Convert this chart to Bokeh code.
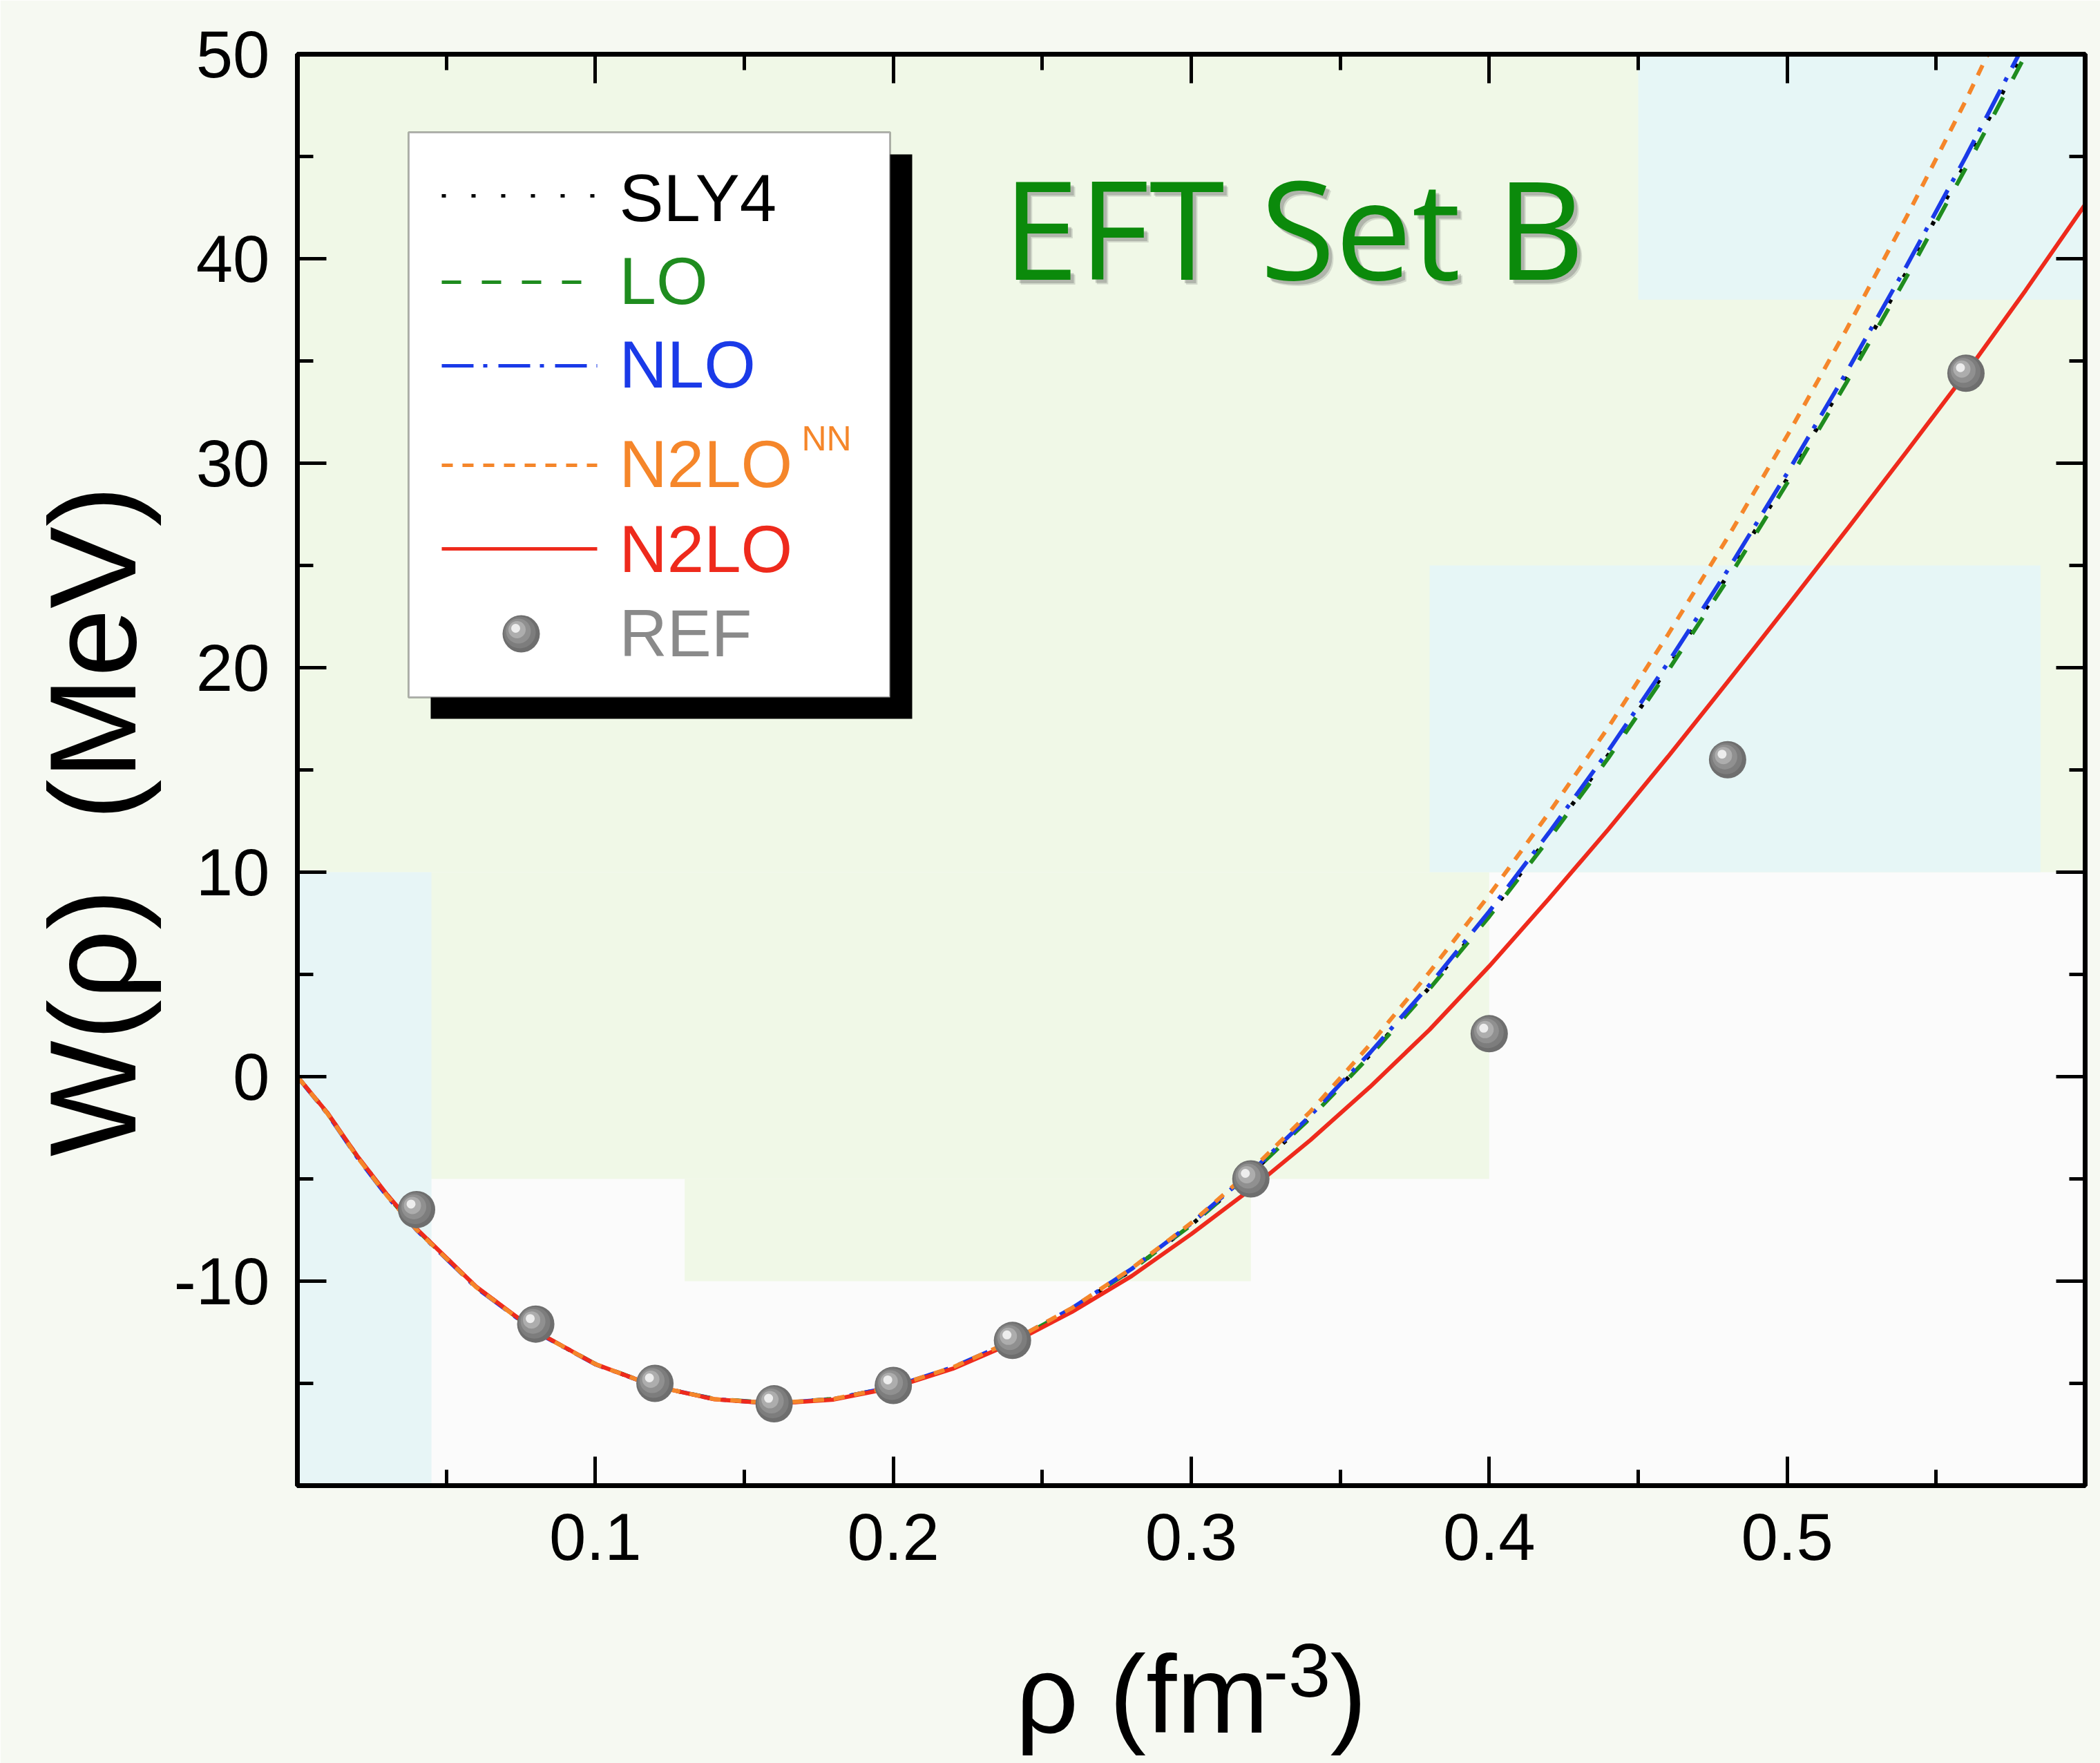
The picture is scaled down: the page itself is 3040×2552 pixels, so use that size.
from bokeh.plotting import figure
from bokeh.models import FixedTicker, LinearAxis, Range1d, Label, BoxAnnotation, Arrow
from bokeh.embed import file_html
from bokeh.resources import INLINE

# ---------------------------------------------------------------------------
# Energy per nucleon W(rho) of symmetric nuclear matter (MeV) vs density (fm^-3)
# ---------------------------------------------------------------------------
rho = [0.00, 0.01, 0.02, 0.03, 0.04, 0.06, 0.08, 0.10, 0.12, 0.14, 0.16,
       0.18, 0.20, 0.22, 0.24, 0.26, 0.28, 0.30, 0.32, 0.34, 0.36, 0.38,
       0.40, 0.42, 0.44, 0.46, 0.48, 0.50, 0.52, 0.54, 0.56, 0.58, 0.60]

w_sly4 = [0.00, -1.76, -3.87, -5.76, -7.45, -10.28, -12.46, -14.06, -15.14,
          -15.77, -15.98, -15.77, -15.18, -14.24, -12.96, -11.37, -9.46,
          -7.25, -4.75, -1.99, 1.07, 4.37, 7.93, 11.74, 15.74, 20.02, 24.51,
          29.24, 34.17, 39.33, 44.70, 50.27, 56.03]

w_lo = [0.00, -1.77, -3.89, -5.79, -7.47, -10.29, -12.46, -14.05, -15.13,
        -15.76, -15.97, -15.76, -15.17, -14.23, -12.95, -11.36, -9.45,
        -7.25, -4.76, -2.02, 1.02, 4.30, 7.83, 11.62, 15.59, 19.85, 24.31,
        29.03, 33.97, 39.10, 44.45, 49.97, 55.73]

w_nlo = [0.00, -1.80, -3.93, -5.83, -7.50, -10.32, -12.48, -14.07, -15.14,
         -15.77, -15.98, -15.76, -15.16, -14.21, -12.92, -11.32, -9.40,
         -7.18, -4.68, -1.90, 1.17, 4.49, 8.08, 11.92, 15.94, 20.24, 24.76,
         29.51, 34.47, 39.63, 45.00, 50.62, 56.40]

w_n2lo_nn = [0.00, -1.79, -3.91, -5.81, -7.49, -10.30, -12.47, -14.06, -15.14,
             -15.77, -15.97, -15.76, -15.16, -14.21, -12.91, -11.31, -9.38,
             -7.15, -4.60, -1.70, 1.57, 5.12, 8.88, 12.89, 17.09, 21.62, 26.36,
             31.34, 36.57, 42.03, 47.75, 53.90, 60.30]

w_n2lo = [0.00, -1.75, -3.86, -5.75, -7.44, -10.27, -12.45, -14.06, -15.14,
          -15.78, -15.99, -15.79, -15.21, -14.28, -13.02, -11.50, -9.75,
          -7.70, -5.50, -3.10, -0.50, 2.30, 5.40, 8.70, 12.10, 15.65, 19.30,
          23.00, 26.75, 30.55, 34.40, 38.45, 42.65]

# reference microscopic calculation
ref_rho = [0.04, 0.08, 0.12, 0.16, 0.20, 0.24, 0.32, 0.40, 0.48, 0.56]
ref_w = [-6.5, -12.1, -15.0, -16.0, -15.1, -12.9, -5.0, 2.1, 15.5, 34.4]

x_ticks = [0.1, 0.2, 0.3, 0.4, 0.5]
x_minor = [0.05, 0.15, 0.25, 0.35, 0.45, 0.55]
y_ticks = [-10, 0, 10, 20, 30, 40, 50]
y_minor = [-15, -5, 5, 15, 25, 35, 45]

# ---------------------------------------------------------------------------
# canvas / frame geometry
# ---------------------------------------------------------------------------
W, H = 3040, 2552
FL, FT, FW, FH = 430, 78, 2588, 2072
X0, X1, Y0, Y1 = 0.0, 0.6, -20.0, 50.0


def sx(px):
    """canvas pixel column -> data x"""
    return X0 + (px - FL) * (X1 - X0) / FW


def sy(py):
    """canvas pixel row -> data y"""
    return Y1 - (py - FT) * (Y1 - Y0) / FH


def ux(px):
    return px * (X1 - X0) / FW


def uy(px):
    return px * (Y1 - Y0) / FH


FONT = "Liberation Sans"
NBSP = "\u00a0"

p = figure(width=W, height=H,
           x_range=Range1d(X0, X1), y_range=Range1d(Y0, Y1),
           output_backend="svg", toolbar_location=None,
           min_border_left=FL, min_border_right=W - FL - FW,
           min_border_top=FT, min_border_bottom=H - FT - FH)

p.background_fill_color = "#fbfbfb"
p.border_fill_color = "#f6f9f2"
p.outline_line_color = "black"
p.outline_line_width = 7
p.xgrid.grid_line_color = None
p.ygrid.grid_line_color = None

# soft pastel backdrop patches
bg_patches = [
    (0.00, 0.60, 10, 50, "#f0f8e7"),
    (0.00, 0.40, -5, 10, "#f0f8e7"),
    (0.13, 0.32, -10, -5, "#f0f8e7"),
    (0.00, 0.045, -20, 10, "#e7f5f6"),
    (0.38, 0.585, 10, 25, "#e6f6f6"),
    (0.45, 0.60, 38, 50, "#e6f6f6"),
]
for l, r, b, t, c in bg_patches:
    p.add_layout(BoxAnnotation(left=l, right=r, bottom=b, top=t,
                               fill_color=c, fill_alpha=1.0,
                               line_color=None, level="underlay"))


def style_axis(ax, ticks, minor, labels):
    ax.ticker = FixedTicker(ticks=ticks, minor_ticks=minor)
    ax.axis_line_color = "black"
    ax.axis_line_width = 7
    ax.major_tick_in = 42
    ax.major_tick_out = 0
    ax.minor_tick_in = 23
    ax.minor_tick_out = 0
    ax.major_tick_line_width = 5
    ax.minor_tick_line_width = 5
    ax.major_tick_line_color = "black"
    ax.minor_tick_line_color = "black"
    if labels:
        ax.major_label_text_font = FONT
        ax.major_label_text_font_size = "96px"
        ax.major_label_text_color = "black"
        ax.major_label_standoff = 40
        ax.major_label_overrides = {float(t): f"{t:g}" for t in ticks}
    else:
        ax.major_label_overrides = {float(t): "" for t in ticks}
        ax.major_label_text_font_size = "1px"
        ax.major_label_standoff = 0
    ax.axis_label_text_font = FONT
    ax.axis_label_text_font_style = "normal"
    ax.axis_label_text_color = "black"


xax, yax = p.xaxis[0], p.yaxis[0]
style_axis(xax, x_ticks, x_minor, True)
style_axis(yax, y_ticks, y_minor, True)
top_ax = LinearAxis()
right_ax = LinearAxis()
style_axis(top_ax, x_ticks, x_minor, False)
style_axis(right_ax, y_ticks, y_minor, False)
p.add_layout(top_ax, "above")
p.add_layout(right_ax, "right")

# y title (trailing no-break spaces nudge it downward along the axis)
yax.axis_label = "W(\u03c1)" + NBSP + " (MeV)" + NBSP * 3
yax.axis_label_text_font_size = "178px"
yax.axis_label_standoff = 15

# x title: the exponent rides on the tick-label axis, the main text on a
# bare companion axis pulled up underneath it
xax.axis_label = NBSP * 10 + "-3"
xax.axis_label_text_font_size = "110px"
xax.axis_label_standoff = 95

x_title_ax = LinearAxis(ticker=FixedTicker(ticks=x_ticks))
x_title_ax.axis_line_color = None
x_title_ax.major_tick_line_color = None
x_title_ax.minor_tick_line_color = None
x_title_ax.major_tick_in = 0
x_title_ax.major_tick_out = 0
x_title_ax.minor_tick_in = 0
x_title_ax.minor_tick_out = 0
x_title_ax.major_label_overrides = {float(t): "" for t in x_ticks}
x_title_ax.major_label_text_font_size = "1px"
x_title_ax.major_label_standoff = 0
x_title_ax.axis_label = "\u03c1 (fm" + NBSP * 2 + ")"
x_title_ax.axis_label_text_font = FONT
x_title_ax.axis_label_text_font_style = "normal"
x_title_ax.axis_label_text_color = "black"
x_title_ax.axis_label_text_font_size = "160px"
x_title_ax.axis_label_standoff = -119
p.add_layout(x_title_ax, "below")

# ---------------------------------------------------------------------------
# curves
# ---------------------------------------------------------------------------
C_SLY4, C_LO, C_NLO, C_NN, C_N2LO, C_REF = ("black", "#1f8c1f", "#1a3ae8",
                                           "#f5862a", "#ee2a1c", "#8a8a8a")
D_SLY4, D_LO, D_NLO, D_NN = "6 37", "28 30", "46 14 6 16", "16 14"
LW = 6

p.line(rho, w_sly4, line_color=C_SLY4, line_width=LW, line_dash=D_SLY4)
p.line(rho, w_lo, line_color=C_LO, line_width=LW, line_dash=D_LO)
p.line(rho, w_nlo, line_color=C_NLO, line_width=LW, line_dash=D_NLO)
p.line(rho, w_n2lo, line_color=C_N2LO, line_width=LW)
p.line(rho, w_n2lo_nn, line_color=C_NN, line_width=LW, line_dash=D_NN)

# shaded grey spheres: stacked discs, each shifted toward the upper left
sphere_layers = [(54, "#6e6e6e", 0), (46, "#7d7d7d", 2), (36, "#909090", 4),
                 (25, "#adadad", 6), (13, "#ededed", 8)]


def sphere(xs, ys, level="glyph"):
    for size, col, off in sphere_layers:
        p.scatter([x - ux(off) for x in xs], [y + uy(off) for y in ys],
                  size=size, fill_color=col, line_color=None, level=level)


sphere(ref_rho, ref_w)

# ---------------------------------------------------------------------------
# legend
# ---------------------------------------------------------------------------
p.add_layout(BoxAnnotation(left=sx(623), right=sx(1320), top=sy(223), bottom=sy(1040),
                           fill_color="black", fill_alpha=1.0, line_color=None))
p.add_layout(BoxAnnotation(left=sx(591), right=sx(1288), top=sy(191), bottom=sy(1009),
                           fill_color="white", fill_alpha=1.0,
                           line_color="black", line_width=3))

# (label, colour, dash, sample row, text middle row)
legend_rows = [
    ("SLY4", C_SLY4, D_SLY4, 283, 286),
    ("LO", C_LO, D_LO, 408, 406),
    ("NLO", C_NLO, D_NLO, 529, 527),
    ("N2LO", C_NN, D_NN, 673, 671),
    ("N2LO", C_N2LO, "solid", 794, 794),
]
SAMPLE_X0, SAMPLE_X1, TEXT_X = 639, 864, 896
for text, col, dash, ly, mid in legend_rows:
    p.add_layout(Arrow(end=None, x_start=sx(SAMPLE_X0), y_start=sy(ly),
                       x_end=sx(SAMPLE_X1), y_end=sy(ly),
                       line_color=col, line_width=5, line_dash=dash))
    p.add_layout(Label(x=sx(TEXT_X), y=sy(mid), text=text, text_color=col,
                       text_font=FONT, text_font_size="96px",
                       text_baseline="middle", text_align="left"))
p.add_layout(Label(x=sx(1160), y=sy(634), text="NN", text_color=C_NN,
                   text_font=FONT, text_font_size="50px",
                   text_baseline="middle", text_align="left"))
p.add_layout(Label(x=sx(TEXT_X), y=sy(916), text="REF", text_color=C_REF,
                   text_font=FONT, text_font_size="96px",
                   text_baseline="middle", text_align="left"))
sphere([sx(754)], [sy(917)], level="overlay")

# ---------------------------------------------------------------------------
# title inside the frame (soft drop shadow underneath)
# ---------------------------------------------------------------------------
TITLE_X, TITLE_MID = 1451, 327
for dxp, dyp, alpha in [(7, 7, 0.18), (5, 5, 0.28)]:
    p.add_layout(Label(x=sx(TITLE_X + dxp), y=sy(TITLE_MID + dyp), text="EFT Set B",
                       text_color="#555555", text_alpha=alpha,
                       text_font="Open Sans", text_font_size="198px",
                       text_baseline="middle", text_align="left"))
p.add_layout(Label(x=sx(TITLE_X), y=sy(TITLE_MID), text="EFT Set B", text_color="#0b8a0b",
                   text_font="Open Sans", text_font_size="198px",
                   text_baseline="middle", text_align="left"))

open("out.html", "w").write(file_html(p, INLINE))
